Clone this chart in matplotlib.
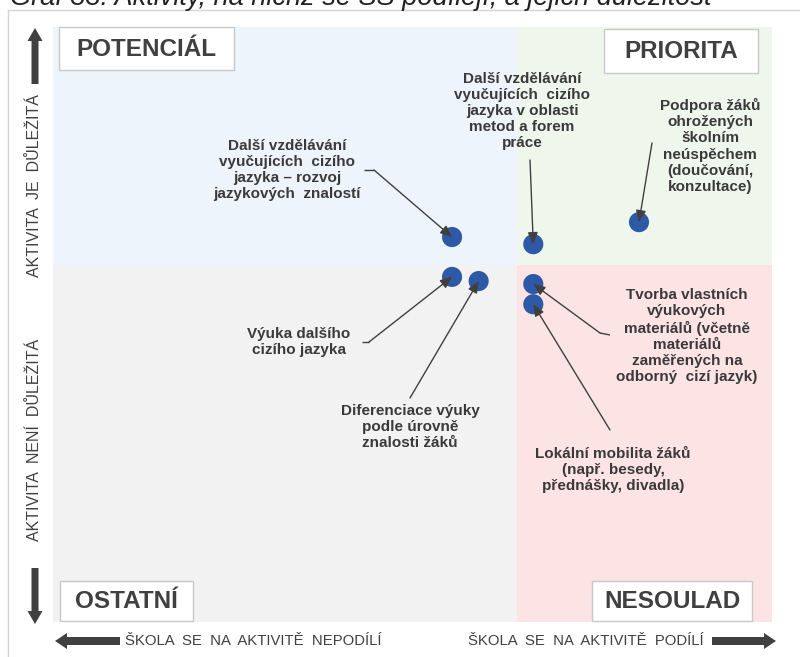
import matplotlib
matplotlib.use('Agg')
import matplotlib.pyplot as plt
from matplotlib import font_manager as fm
from matplotlib.patches import Rectangle, Polygon


def has_font(name):
    try:
        fm.findfont(fm.FontProperties(family=name), fallback_to_default=False)
        return True
    except Exception:
        return False


SANS = 'Liberation Sans' if has_font('Liberation Sans') else 'DejaVu Sans'
NARROW = 'Liberation Sans Narrow' if has_font('Liberation Sans Narrow') else SANS
plt.rcParams['font.family'] = [SANS, 'DejaVu Sans']

# ---------------- data ----------------
title = "Graf 33: Aktivity, na nichž se SŠ podílejí, a jejich důležitost"
activities = [
    "Další vzdělávání\nvyučujících  cizího\njazyka – rozvoj\njazykových  znalostí",
    "Další vzdělávání\nvyučujících  cizího\njazyka v oblasti\nmetod a forem\npráce",
    "Podpora žáků\nohrožených\nškolním\nneúspěchem\n(doučování,\nkonzultace)",
    "Výuka dalšího\ncizího jazyka",
    "Diferenciace výuky\npodle úrovně\nznalosti žáků",
    "Tvorba vlastních\nvýukových\nmateriálů (včetně\nmateriálů\nzaměřených na\nodborný  cizí jazyk)",
    "Lokální mobilita žáků\n(např. besedy,\npřednášky, divadla)",
]
participation = [55.5, 66.8, 81.5, 55.5, 59.2, 66.8, 66.8]   # x
importance = [64.7, 63.5, 67.2, 58.0, 57.3, 56.8, 53.4]      # y
x_threshold = 64.5
y_threshold = 60.0
quadrant_names = ["POTENCIÁL", "PRIORITA", "OSTATNÍ", "NESOULAD"]
y_axis_labels = ["AKTIVITA  JE  DŮLEŽITÁ", "AKTIVITA  NENÍ  DŮLEŽITÁ"]
x_axis_labels = ["ŠKOLA  SE  NA  AKTIVITĚ  NEPODÍLÍ", "ŠKOLA  SE  NA  AKTIVITĚ  PODÍLÍ"]

# ---------------- layout (pixels) ----------------
W, H = 800, 657
PL, PR, PT, PB = 53, 772, 27, 622


def px2d(px, py):
    return ((px - PL) / (PR - PL) * 100.0, (PB - py) / (PB - PT) * 100.0)


# label center, arrow start, optional elbow
label_layout = [
    ((287, 170), (364, 170), (374, 170)),
    ((522, 111), (530, 160), None),
    ((710, 146), (652, 143), None),
    ((299, 342), (362, 342), (369, 342)),
    ((410, 427), (410, 398), None),
    ((687, 336), (610, 335), (600, 333)),
    ((613, 470), (610, 430), None),
]

fig = plt.figure(figsize=(W / 100, H / 100), dpi=100)
fig.patch.set_facecolor('white')
ax = fig.add_axes([PL / W, (H - PB) / H, (PR - PL) / W, (PB - PT) / H])
ax.set_xlim(0, 100)
ax.set_ylim(0, 100)
ax.axis('off')

# quadrant backgrounds
ax.add_patch(Rectangle((0, y_threshold), x_threshold, 100 - y_threshold, fc='#EEF4FB', ec='none', zorder=0))
ax.add_patch(Rectangle((x_threshold, y_threshold), 100 - x_threshold, 100 - y_threshold, fc='#EFF6EC', ec='none', zorder=0))
ax.add_patch(Rectangle((0, 0), x_threshold, y_threshold, fc='#F2F2F2', ec='none', zorder=0))
ax.add_patch(Rectangle((x_threshold, 0), 100 - x_threshold, y_threshold, fc='#FDE4E4', ec='none', zorder=0))

# points
ax.scatter(participation, importance, s=210, color='#2E59A7', edgecolors='none', zorder=3)

# labels + arrows
TXT = '#3A3A3A'
for i, (lab, (c, s, e)) in enumerate(zip(activities, label_layout)):
    ax.text(*px2d(*c), lab, ha='center', va='center', fontsize=11, color=TXT,
            fontweight='bold', linespacing=1.2, zorder=5, family=[SANS, 'DejaVu Sans'])
    start = px2d(*s)
    if e is not None:
        el = px2d(*e)
        ax.plot([start[0], el[0]], [start[1], el[1]], color='#404040', lw=1.0, zorder=4,
                solid_capstyle='butt')
        start = el
    ax.annotate('', xy=(participation[i], importance[i]), xytext=start,
                arrowprops=dict(arrowstyle='-|>,head_length=0.7,head_width=0.3', color='#404040',
                                lw=1.0, shrinkA=0, shrinkB=0, mutation_scale=10),
                zorder=4)

# ---------------- overlay (decorations in pixels) ----------------
ov = fig.add_axes([0, 0, 1, 1], zorder=5)
ov.set_xlim(0, W)
ov.set_ylim(H, 0)
ov.axis('off')
ov.patch.set_alpha(0)

# frame
ov.plot([7.5, 7.5], [9.5, H], color='#D4D4D4', lw=1)
ov.plot([7.5, W], [9.5, 9.5], color='#D4D4D4', lw=1)

# quadrant label boxes
boxes = [(59, 27, 234, 70), (604, 29, 758, 73), (60, 581, 193, 621), (592, 581, 752, 621)]
for name, (x0, y0, x1, y1) in zip(quadrant_names, boxes):
    ov.add_patch(Rectangle((x0, y0), x1 - x0, y1 - y0, fc='white', ec='#C8C8C8', lw=1))
    ov.text((x0 + x1) / 2, (y0 + y1) / 2 + 1, name, ha='center', va='center', fontsize=17.5,
            fontweight='bold', color='#404040')

DARK = '#404040'


def harrow(x_tail, x_tip, y, shaft=8, head=16, hl=12):
    d = 1 if x_tip > x_tail else -1
    xb = x_tip - d * hl
    ov.add_patch(Polygon([(x_tail, y - shaft / 2), (xb, y - shaft / 2), (xb, y - head / 2),
                          (x_tip, y), (xb, y + head / 2), (xb, y + shaft / 2), (x_tail, y + shaft / 2)],
                         closed=True, fc=DARK, ec='none'))


def varrow(y_tail, y_tip, x, shaft=7, head=15, hl=13):
    d = 1 if y_tip > y_tail else -1
    yb = y_tip - d * hl
    ov.add_patch(Polygon([(x - shaft / 2, y_tail), (x - shaft / 2, yb), (x - head / 2, yb),
                          (x, y_tip), (x + head / 2, yb), (x + shaft / 2, yb), (x + shaft / 2, y_tail)],
                         closed=True, fc=DARK, ec='none'))


varrow(84, 28, 35)
varrow(568, 624, 35)
harrow(120, 55, 641)
harrow(712, 776, 641)

ov.text(35, 186, y_axis_labels[0], rotation=90, ha='center', va='center', fontsize=11.5,
        color=DARK, family=[NARROW, 'DejaVu Sans'])
ov.text(35, 440, y_axis_labels[1], rotation=90, ha='center', va='center', fontsize=11.5,
        color=DARK, family=[NARROW, 'DejaVu Sans'])
ov.text(125, 641, x_axis_labels[0], ha='left', va='center', fontsize=10.7, color=DARK,
        family=[NARROW, 'DejaVu Sans'])
ov.text(704, 641, x_axis_labels[1], ha='right', va='center', fontsize=10.7, color=DARK,
        family=[NARROW, 'DejaVu Sans'])

# title, cut by the top edge as in the source image
ov.text(10, 5, title, ha='left', va='baseline', fontsize=19.5, style='italic', color='#222222')

fig.savefig('out.png', dpi=100)
